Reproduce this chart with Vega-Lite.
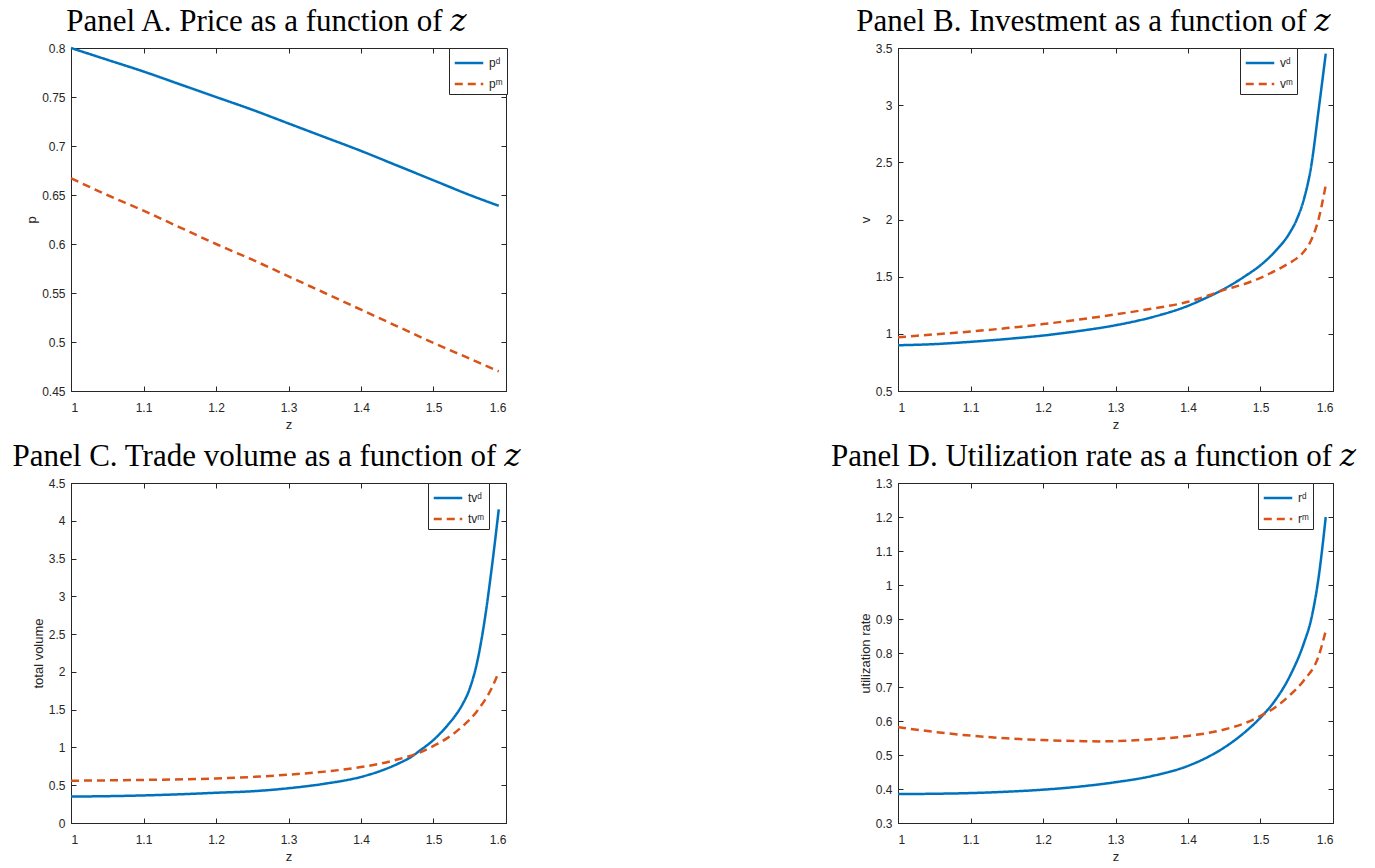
{
  "$schema": "https://vega.github.io/schema/vega-lite/v6.json",
  "background": "white",
  "padding": {"left": 11, "top": 5, "right": 5, "bottom": 5},
  "columns": 2,
  "bounds": "flush",
  "spacing": {"column": 392, "row": 92},
  "resolve": {"scale": {"color": "independent", "strokeDash": "independent"}},
  "datasets": {
    "A": [
      {"z": 1.00, "s": "pᵈ", "v": 0.800}, {"z": 1.05, "s": "pᵈ", "v": 0.788}, {"z": 1.10, "s": "pᵈ", "v": 0.776}, {"z": 1.15, "s": "pᵈ", "v": 0.763},
      {"z": 1.20, "s": "pᵈ", "v": 0.750}, {"z": 1.25, "s": "pᵈ", "v": 0.737}, {"z": 1.30, "s": "pᵈ", "v": 0.723}, {"z": 1.35, "s": "pᵈ", "v": 0.709},
      {"z": 1.40, "s": "pᵈ", "v": 0.695}, {"z": 1.45, "s": "pᵈ", "v": 0.680}, {"z": 1.50, "s": "pᵈ", "v": 0.665}, {"z": 1.55, "s": "pᵈ", "v": 0.650},
      {"z": 1.59, "s": "pᵈ", "v": 0.639},
      {"z": 1.00, "s": "pᵐ", "v": 0.667}, {"z": 1.05, "s": "pᵐ", "v": 0.650}, {"z": 1.10, "s": "pᵐ", "v": 0.634}, {"z": 1.15, "s": "pᵐ", "v": 0.617},
      {"z": 1.20, "s": "pᵐ", "v": 0.600}, {"z": 1.25, "s": "pᵐ", "v": 0.584}, {"z": 1.30, "s": "pᵐ", "v": 0.567}, {"z": 1.35, "s": "pᵐ", "v": 0.550},
      {"z": 1.40, "s": "pᵐ", "v": 0.533}, {"z": 1.45, "s": "pᵐ", "v": 0.516}, {"z": 1.50, "s": "pᵐ", "v": 0.499}, {"z": 1.55, "s": "pᵐ", "v": 0.483},
      {"z": 1.59, "s": "pᵐ", "v": 0.470}
    ],
    "B": [
      {"z": 1.00, "s": "vᵈ", "v": 0.90}, {"z": 1.05, "s": "vᵈ", "v": 0.91}, {"z": 1.10, "s": "vᵈ", "v": 0.93}, {"z": 1.15, "s": "vᵈ", "v": 0.955},
      {"z": 1.20, "s": "vᵈ", "v": 0.985}, {"z": 1.25, "s": "vᵈ", "v": 1.025}, {"z": 1.30, "s": "vᵈ", "v": 1.075}, {"z": 1.35, "s": "vᵈ", "v": 1.145},
      {"z": 1.40, "s": "vᵈ", "v": 1.245}, {"z": 1.42, "s": "vᵈ", "v": 1.30}, {"z": 1.44, "s": "vᵈ", "v": 1.36}, {"z": 1.46, "s": "vᵈ", "v": 1.43},
      {"z": 1.48, "s": "vᵈ", "v": 1.51}, {"z": 1.50, "s": "vᵈ", "v": 1.60}, {"z": 1.52, "s": "vᵈ", "v": 1.72}, {"z": 1.54, "s": "vᵈ", "v": 1.88},
      {"z": 1.55, "s": "vᵈ", "v": 2.00}, {"z": 1.56, "s": "vᵈ", "v": 2.18}, {"z": 1.57, "s": "vᵈ", "v": 2.47}, {"z": 1.58, "s": "vᵈ", "v": 2.95},
      {"z": 1.59, "s": "vᵈ", "v": 3.45},
      {"z": 1.00, "s": "vᵐ", "v": 0.97}, {"z": 1.05, "s": "vᵐ", "v": 0.995}, {"z": 1.10, "s": "vᵐ", "v": 1.02}, {"z": 1.15, "s": "vᵐ", "v": 1.05},
      {"z": 1.20, "s": "vᵐ", "v": 1.085}, {"z": 1.25, "s": "vᵐ", "v": 1.125}, {"z": 1.30, "s": "vᵐ", "v": 1.17}, {"z": 1.35, "s": "vᵐ", "v": 1.22},
      {"z": 1.40, "s": "vᵐ", "v": 1.28}, {"z": 1.43, "s": "vᵐ", "v": 1.34}, {"z": 1.45, "s": "vᵐ", "v": 1.385}, {"z": 1.48, "s": "vᵐ", "v": 1.44},
      {"z": 1.50, "s": "vᵐ", "v": 1.49}, {"z": 1.52, "s": "vᵐ", "v": 1.55}, {"z": 1.54, "s": "vᵐ", "v": 1.62}, {"z": 1.55, "s": "vᵐ", "v": 1.66},
      {"z": 1.56, "s": "vᵐ", "v": 1.72}, {"z": 1.57, "s": "vᵐ", "v": 1.82}, {"z": 1.58, "s": "vᵐ", "v": 2.00}, {"z": 1.59, "s": "vᵐ", "v": 2.30}
    ],
    "C": [
      {"z": 1.00, "s": "tvᵈ", "v": 0.35}, {"z": 1.05, "s": "tvᵈ", "v": 0.355}, {"z": 1.10, "s": "tvᵈ", "v": 0.365}, {"z": 1.15, "s": "tvᵈ", "v": 0.38},
      {"z": 1.20, "s": "tvᵈ", "v": 0.40}, {"z": 1.25, "s": "tvᵈ", "v": 0.42}, {"z": 1.30, "s": "tvᵈ", "v": 0.46}, {"z": 1.35, "s": "tvᵈ", "v": 0.52},
      {"z": 1.40, "s": "tvᵈ", "v": 0.61}, {"z": 1.43, "s": "tvᵈ", "v": 0.70}, {"z": 1.45, "s": "tvᵈ", "v": 0.78}, {"z": 1.47, "s": "tvᵈ", "v": 0.88},
      {"z": 1.48, "s": "tvᵈ", "v": 0.95}, {"z": 1.50, "s": "tvᵈ", "v": 1.10}, {"z": 1.52, "s": "tvᵈ", "v": 1.30}, {"z": 1.53, "s": "tvᵈ", "v": 1.42}, {"z": 1.54, "s": "tvᵈ", "v": 1.57},
      {"z": 1.55, "s": "tvᵈ", "v": 1.78}, {"z": 1.56, "s": "tvᵈ", "v": 2.12}, {"z": 1.57, "s": "tvᵈ", "v": 2.65}, {"z": 1.58, "s": "tvᵈ", "v": 3.35},
      {"z": 1.59, "s": "tvᵈ", "v": 4.15},
      {"z": 1.00, "s": "tvᵐ", "v": 0.56}, {"z": 1.10, "s": "tvᵐ", "v": 0.57}, {"z": 1.20, "s": "tvᵐ", "v": 0.59}, {"z": 1.25, "s": "tvᵐ", "v": 0.61},
      {"z": 1.30, "s": "tvᵐ", "v": 0.64}, {"z": 1.35, "s": "tvᵐ", "v": 0.68}, {"z": 1.40, "s": "tvᵐ", "v": 0.74}, {"z": 1.45, "s": "tvᵐ", "v": 0.84},
      {"z": 1.48, "s": "tvᵐ", "v": 0.93}, {"z": 1.50, "s": "tvᵐ", "v": 1.02}, {"z": 1.52, "s": "tvᵐ", "v": 1.13}, {"z": 1.54, "s": "tvᵐ", "v": 1.28},
      {"z": 1.56, "s": "tvᵐ", "v": 1.48}, {"z": 1.58, "s": "tvᵐ", "v": 1.78}, {"z": 1.59, "s": "tvᵐ", "v": 2.00}
    ],
    "D": [
      {"z": 1.00, "s": "rᵈ", "v": 0.385}, {"z": 1.05, "s": "rᵈ", "v": 0.386}, {"z": 1.10, "s": "rᵈ", "v": 0.388}, {"z": 1.15, "s": "rᵈ", "v": 0.392},
      {"z": 1.20, "s": "rᵈ", "v": 0.398}, {"z": 1.25, "s": "rᵈ", "v": 0.407}, {"z": 1.30, "s": "rᵈ", "v": 0.42}, {"z": 1.35, "s": "rᵈ", "v": 0.438},
      {"z": 1.40, "s": "rᵈ", "v": 0.468}, {"z": 1.43, "s": "rᵈ", "v": 0.497}, {"z": 1.45, "s": "rᵈ", "v": 0.522}, {"z": 1.48, "s": "rᵈ", "v": 0.57},
      {"z": 1.50, "s": "rᵈ", "v": 0.61}, {"z": 1.52, "s": "rᵈ", "v": 0.66}, {"z": 1.54, "s": "rᵈ", "v": 0.73}, {"z": 1.56, "s": "rᵈ", "v": 0.83},
      {"z": 1.57, "s": "rᵈ", "v": 0.90}, {"z": 1.58, "s": "rᵈ", "v": 1.02}, {"z": 1.59, "s": "rᵈ", "v": 1.20},
      {"z": 1.00, "s": "rᵐ", "v": 0.582}, {"z": 1.05, "s": "rᵐ", "v": 0.568}, {"z": 1.10, "s": "rᵐ", "v": 0.557}, {"z": 1.15, "s": "rᵐ", "v": 0.549},
      {"z": 1.20, "s": "rᵐ", "v": 0.544}, {"z": 1.25, "s": "rᵐ", "v": 0.541}, {"z": 1.28, "s": "rᵐ", "v": 0.540}, {"z": 1.30, "s": "rᵐ", "v": 0.541},
      {"z": 1.35, "s": "rᵐ", "v": 0.546}, {"z": 1.40, "s": "rᵐ", "v": 0.556}, {"z": 1.45, "s": "rᵐ", "v": 0.575}, {"z": 1.48, "s": "rᵐ", "v": 0.595},
      {"z": 1.50, "s": "rᵐ", "v": 0.615}, {"z": 1.52, "s": "rᵐ", "v": 0.64}, {"z": 1.54, "s": "rᵐ", "v": 0.675}, {"z": 1.56, "s": "rᵐ", "v": 0.72},
      {"z": 1.58, "s": "rᵐ", "v": 0.79}, {"z": 1.59, "s": "rᵐ", "v": 0.865}
    ]
  },
  "concat": [
    {
      "title": "Panel A. Price as a function of 𝑧",
      "width": 435, "height": 343,
      "data": {"name": "A"},
      "layer": [
        {"mark": {"type": "line", "strokeWidth": 2.5, "interpolate": "monotone"},
         "encoding": {
           "x": {"field": "z", "type": "quantitative", "scale": {"domain": [1, 1.6], "nice": false, "zero": false}, "axis": {"title": "z", "values": [1, 1.1, 1.2, 1.3, 1.4, 1.5, 1.6], "format": ".1~f"}},
           "y": {"field": "v", "type": "quantitative", "scale": {"domain": [0.45, 0.8], "nice": false, "zero": false}, "axis": {"title": "p", "values": [0.45, 0.5, 0.55, 0.6, 0.65, 0.7, 0.75, 0.8], "format": ".2~f"}},
           "color": {"field": "s", "type": "nominal", "scale": {"domain": ["pᵈ", "pᵐ"], "range": ["#0072BD", "#D95319"]}, "legend": {"title": null, "orient": "none", "legendX": 378, "legendY": 0}},
           "strokeDash": {"field": "s", "type": "nominal", "scale": {"domain": ["pᵈ", "pᵐ"], "range": [[1, 0], [8, 5]]}, "legend": {"title": null, "orient": "none", "legendX": 378, "legendY": 0}}
         }},
        {"mark": {"type": "line", "opacity": 0},
         "encoding": {
           "x": {"field": "z", "type": "quantitative", "scale": {"domain": [1, 1.6], "nice": false, "zero": false}, "axis": {"orient": "top", "labels": false, "title": null, "domain": false, "values": [1, 1.1, 1.2, 1.3, 1.4, 1.5, 1.6]}},
           "y": {"field": "v", "type": "quantitative", "scale": {"domain": [0.45, 0.8], "nice": false, "zero": false}, "axis": {"orient": "right", "labels": false, "title": null, "domain": false, "values": [0.45, 0.5, 0.55, 0.6, 0.65, 0.7, 0.75, 0.8]}}
         }}
      ],
      "resolve": {"scale": {"x": "independent", "y": "independent"}}
    },
    {
      "title": "Panel B. Investment as a function of 𝑧",
      "width": 435, "height": 343,
      "data": {"name": "B"},
      "layer": [
        {"mark": {"type": "line", "strokeWidth": 2.5, "interpolate": "monotone"},
         "encoding": {
           "x": {"field": "z", "type": "quantitative", "scale": {"domain": [1, 1.6], "nice": false, "zero": false}, "axis": {"title": "z", "values": [1, 1.1, 1.2, 1.3, 1.4, 1.5, 1.6], "format": ".1~f"}},
           "y": {"field": "v", "type": "quantitative", "scale": {"domain": [0.5, 3.5], "nice": false, "zero": false}, "axis": {"title": "v", "values": [0.5, 1, 1.5, 2, 2.5, 3, 3.5], "format": ".1~f"}},
           "color": {"field": "s", "type": "nominal", "scale": {"domain": ["vᵈ", "vᵐ"], "range": ["#0072BD", "#D95319"]}, "legend": {"title": null, "orient": "none", "legendX": 342, "legendY": 0}},
           "strokeDash": {"field": "s", "type": "nominal", "scale": {"domain": ["vᵈ", "vᵐ"], "range": [[1, 0], [8, 5]]}, "legend": {"title": null, "orient": "none", "legendX": 342, "legendY": 0}}
         }},
        {"mark": {"type": "line", "opacity": 0},
         "encoding": {
           "x": {"field": "z", "type": "quantitative", "scale": {"domain": [1, 1.6], "nice": false, "zero": false}, "axis": {"orient": "top", "labels": false, "title": null, "domain": false, "values": [1, 1.1, 1.2, 1.3, 1.4, 1.5, 1.6]}},
           "y": {"field": "v", "type": "quantitative", "scale": {"domain": [0.5, 3.5], "nice": false, "zero": false}, "axis": {"orient": "right", "labels": false, "title": null, "domain": false, "values": [0.5, 1, 1.5, 2, 2.5, 3, 3.5]}}
         }}
      ],
      "resolve": {"scale": {"x": "independent", "y": "independent"}}
    },
    {
      "title": "Panel C. Trade volume as a function of 𝑧",
      "width": 435, "height": 340,
      "data": {"name": "C"},
      "layer": [
        {"mark": {"type": "line", "strokeWidth": 2.5, "interpolate": "monotone"},
         "encoding": {
           "x": {"field": "z", "type": "quantitative", "scale": {"domain": [1, 1.6], "nice": false, "zero": false}, "axis": {"title": "z", "values": [1, 1.1, 1.2, 1.3, 1.4, 1.5, 1.6], "format": ".1~f"}},
           "y": {"field": "v", "type": "quantitative", "scale": {"domain": [0, 4.5], "nice": false, "zero": false}, "axis": {"title": "total volume", "values": [0, 0.5, 1, 1.5, 2, 2.5, 3, 3.5, 4, 4.5], "format": ".1~f"}},
           "color": {"field": "s", "type": "nominal", "scale": {"domain": ["tvᵈ", "tvᵐ"], "range": ["#0072BD", "#D95319"]}, "legend": {"title": null, "orient": "none", "legendX": 357, "legendY": 0}},
           "strokeDash": {"field": "s", "type": "nominal", "scale": {"domain": ["tvᵈ", "tvᵐ"], "range": [[1, 0], [8, 5]]}, "legend": {"title": null, "orient": "none", "legendX": 357, "legendY": 0}}
         }},
        {"mark": {"type": "line", "opacity": 0},
         "encoding": {
           "x": {"field": "z", "type": "quantitative", "scale": {"domain": [1, 1.6], "nice": false, "zero": false}, "axis": {"orient": "top", "labels": false, "title": null, "domain": false, "values": [1, 1.1, 1.2, 1.3, 1.4, 1.5, 1.6]}},
           "y": {"field": "v", "type": "quantitative", "scale": {"domain": [0, 4.5], "nice": false, "zero": false}, "axis": {"orient": "right", "labels": false, "title": null, "domain": false, "values": [0, 0.5, 1, 1.5, 2, 2.5, 3, 3.5, 4, 4.5]}}
         }}
      ],
      "resolve": {"scale": {"x": "independent", "y": "independent"}}
    },
    {
      "title": "Panel D. Utilization rate as a function of 𝑧",
      "width": 435, "height": 340,
      "data": {"name": "D"},
      "layer": [
        {"mark": {"type": "line", "strokeWidth": 2.5, "interpolate": "monotone"},
         "encoding": {
           "x": {"field": "z", "type": "quantitative", "scale": {"domain": [1, 1.6], "nice": false, "zero": false}, "axis": {"title": "z", "values": [1, 1.1, 1.2, 1.3, 1.4, 1.5, 1.6], "format": ".1~f"}},
           "y": {"field": "v", "type": "quantitative", "scale": {"domain": [0.3, 1.3], "nice": false, "zero": false}, "axis": {"title": "utilization rate", "values": [0.3, 0.4, 0.5, 0.6, 0.7, 0.8, 0.9, 1, 1.1, 1.2, 1.3], "format": ".1~f"}},
           "color": {"field": "s", "type": "nominal", "scale": {"domain": ["rᵈ", "rᵐ"], "range": ["#0072BD", "#D95319"]}, "legend": {"title": null, "orient": "none", "legendX": 360, "legendY": 0}},
           "strokeDash": {"field": "s", "type": "nominal", "scale": {"domain": ["rᵈ", "rᵐ"], "range": [[1, 0], [8, 5]]}, "legend": {"title": null, "orient": "none", "legendX": 360, "legendY": 0}}
         }},
        {"mark": {"type": "line", "opacity": 0},
         "encoding": {
           "x": {"field": "z", "type": "quantitative", "scale": {"domain": [1, 1.6], "nice": false, "zero": false}, "axis": {"orient": "top", "labels": false, "title": null, "domain": false, "values": [1, 1.1, 1.2, 1.3, 1.4, 1.5, 1.6]}},
           "y": {"field": "v", "type": "quantitative", "scale": {"domain": [0.3, 1.3], "nice": false, "zero": false}, "axis": {"orient": "right", "labels": false, "title": null, "domain": false, "values": [0.3, 0.4, 0.5, 0.6, 0.7, 0.8, 0.9, 1, 1.1, 1.2, 1.3]}}
         }}
      ],
      "resolve": {"scale": {"x": "independent", "y": "independent"}}
    }
  ],
  "config": {
    "font": "Liberation Sans",
    "view": {"stroke": "#262626", "strokeWidth": 1},
    "axis": {
      "grid": false, "tickSize": -5, "tickColor": "#262626", "domainColor": "#262626",
      "labelFont": "Liberation Sans", "labelFontSize": 12, "labelColor": "#262626",
      "titleFont": "Liberation Sans", "titleFontSize": 13, "titleFontWeight": "normal", "titleColor": "#262626"
    },
    "axisX": {"labelPadding": 16, "titlePadding": 5},
    "axisY": {"labelPadding": 11, "titlePadding": 3},
    "title": {"font": "Liberation Serif, DejaVu Serif, serif", "fontSize": 31, "fontWeight": "normal", "color": "black", "anchor": "middle", "offset": 4, "dx": -22},
    "legend": {
      "strokeColor": "#262626", "fillColor": "white", "padding": 4,
      "symbolType": "M-1.5,0H1.5", "symbolSize": 361, "symbolStrokeWidth": 2.5, "symbolOffset": 5, "symbolFillColor": "transparent",
      "labelFont": "Liberation Sans", "labelFontSize": 12, "labelColor": "#262626", "labelOffset": 9, "rowPadding": 4
    }
  }
}
